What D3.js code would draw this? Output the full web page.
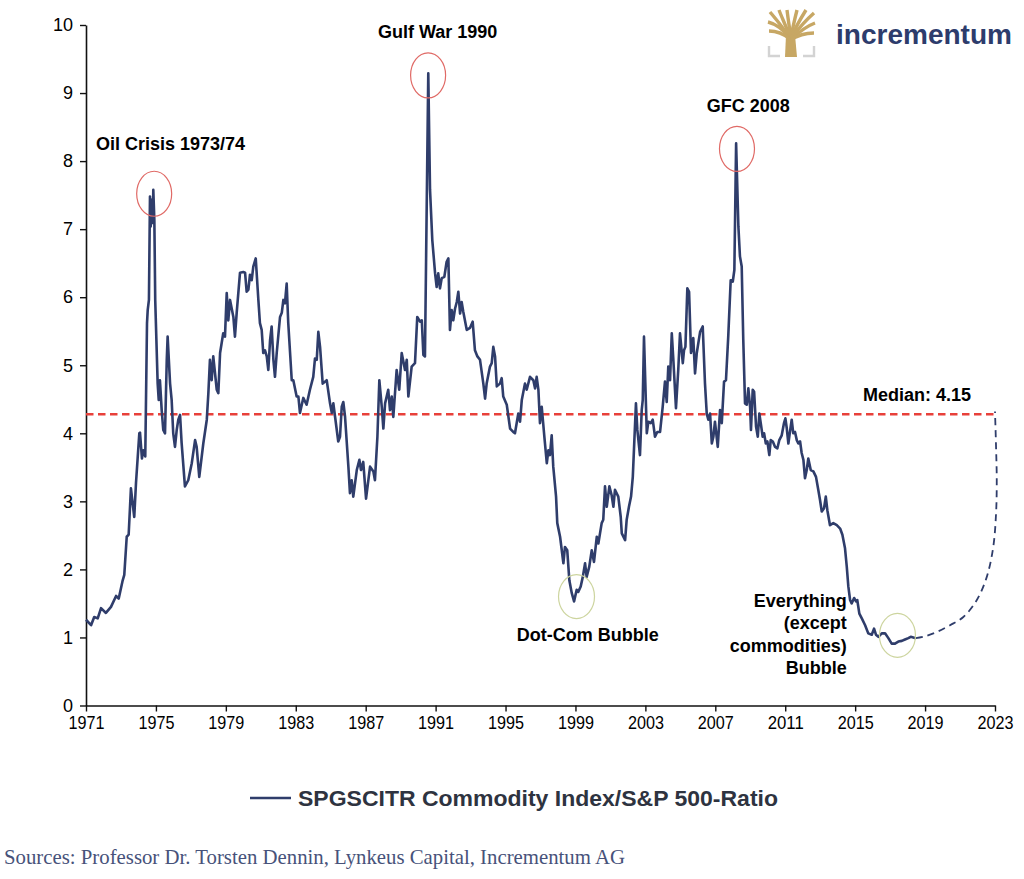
<!DOCTYPE html>
<html><head><meta charset="utf-8">
<script src="https://cdn.jsdelivr.net/npm/d3@7"></script>
<style>
html,body{margin:0;padding:0;background:#fff;}
svg{display:block;}
</style></head>
<body><svg id="chart" width="1024" height="879"></svg>
<script>
// ---------------- DATA ----------------
const years = [1971.00,1971.29,1971.47,1971.67,1971.86,1972.14,1972.43,1972.72,1972.87,1973.10,1973.19,1973.33,1973.44,1973.57,1973.76,1973.86,1974.05,1974.09,1974.20,1974.28,1974.39,1974.49,1974.53,1974.60,1974.66,1974.70,1974.76,1974.82,1974.85,1974.91,1974.96,1975.10,1975.16,1975.23,1975.33,1975.42,1975.52,1975.62,1975.67,1975.81,1975.90,1975.99,1976.09,1976.19,1976.28,1976.38,1976.47,1976.66,1976.85,1977.05,1977.24,1977.33,1977.48,1977.71,1977.91,1978.00,1978.09,1978.19,1978.28,1978.48,1978.57,1978.67,1978.85,1978.95,1979.05,1979.14,1979.24,1979.43,1979.52,1979.62,1979.81,1980.00,1980.10,1980.19,1980.29,1980.38,1980.48,1980.57,1980.71,1980.86,1980.95,1981.05,1981.14,1981.24,1981.34,1981.43,1981.53,1981.62,1981.72,1981.81,1981.91,1982.10,1982.20,1982.29,1982.38,1982.48,1982.57,1982.77,1982.86,1983.05,1983.15,1983.24,1983.43,1983.62,1983.81,1984.00,1984.10,1984.20,1984.29,1984.39,1984.54,1984.77,1984.96,1985.06,1985.15,1985.25,1985.43,1985.53,1985.63,1985.72,1985.82,1986.01,1986.10,1986.20,1986.29,1986.49,1986.64,1986.73,1986.86,1987.02,1987.25,1987.44,1987.53,1987.67,1987.78,1987.92,1988.01,1988.11,1988.29,1988.39,1988.49,1988.58,1988.77,1988.92,1989.06,1989.25,1989.35,1989.44,1989.63,1989.82,1989.95,1990.11,1990.21,1990.30,1990.39,1990.58,1990.68,1990.81,1990.97,1991.06,1991.15,1991.25,1991.35,1991.50,1991.63,1991.73,1991.82,1991.92,1992.01,1992.11,1992.21,1992.30,1992.40,1992.49,1992.58,1992.78,1992.97,1993.12,1993.25,1993.39,1993.54,1993.73,1993.83,1993.92,1994.11,1994.21,1994.30,1994.40,1994.50,1994.68,1994.78,1994.87,1995.07,1995.26,1995.44,1995.54,1995.73,1995.83,1995.93,1996.11,1996.21,1996.40,1996.59,1996.69,1996.78,1996.88,1996.97,1997.07,1997.22,1997.36,1997.45,1997.54,1997.64,1997.73,1997.89,1997.96,1998.12,1998.31,1998.40,1998.53,1998.65,1998.79,1998.92,1999.07,1999.16,1999.30,1999.42,1999.55,1999.64,1999.79,1999.93,2000.06,2000.22,2000.31,2000.50,2000.59,2000.69,2000.79,2000.94,2001.07,2001.17,2001.26,2001.45,2001.59,2001.65,2001.84,2001.93,2002.06,2002.18,2002.28,2002.37,2002.46,2002.54,2002.69,2002.79,2002.85,2002.92,2003.08,2003.17,2003.31,2003.42,2003.55,2003.68,2003.84,2003.99,2004.12,2004.22,2004.31,2004.41,2004.51,2004.60,2004.75,2004.88,2004.98,2005.14,2005.21,2005.29,2005.40,2005.50,2005.61,2005.74,2005.84,2005.94,2006.13,2006.28,2006.41,2006.51,2006.60,2006.70,2006.80,2006.89,2006.98,2007.14,2007.27,2007.37,2007.50,2007.61,2007.74,2007.88,2008.00,2008.09,2008.19,2008.32,2008.41,2008.51,2008.60,2008.70,2008.80,2008.89,2008.99,2009.04,2009.14,2009.22,2009.33,2009.43,2009.52,2009.60,2009.71,2009.79,2009.89,2009.98,2010.09,2010.17,2010.29,2010.42,2010.55,2010.66,2010.80,2010.93,2011.01,2011.09,2011.18,2011.27,2011.37,2011.46,2011.56,2011.66,2011.75,2011.85,2011.94,2012.04,2012.13,2012.23,2012.32,2012.46,2012.61,2012.76,2012.89,2012.99,2013.09,2013.22,2013.32,2013.41,2013.56,2013.75,2013.95,2014.14,2014.27,2014.42,2014.52,2014.61,2014.71,2014.80,2014.94,2015.05,2015.12,2015.24,2015.38,2015.57,2015.75,2015.95,2016.08,2016.19,2016.33,2016.52,2016.71,2016.90,2017.09,2017.28,2017.47,2017.67,2017.85,2018.04,2018.18,2018.47];
const ratio = [1.26,1.18,1.30,1.28,1.43,1.36,1.45,1.61,1.57,1.84,1.92,2.48,2.51,3.19,2.77,3.27,4.00,4.01,3.63,3.75,3.66,5.62,5.81,5.96,7.48,7.04,7.43,7.09,7.58,7.13,5.96,4.73,4.49,4.78,4.34,4.05,4.00,5.08,5.42,4.73,4.49,4.00,3.80,4.05,4.20,4.27,3.86,3.22,3.31,3.56,3.90,3.80,3.36,3.85,4.20,4.59,5.08,4.78,5.13,4.64,4.59,5.18,5.47,5.42,6.06,5.66,5.96,5.71,5.42,5.77,6.36,6.37,6.36,6.08,6.11,6.33,6.25,6.45,6.57,5.96,5.62,5.52,5.18,5.22,5.13,4.93,5.37,5.57,5.08,4.83,5.18,5.71,5.77,5.96,5.91,6.20,5.62,4.78,4.78,4.54,4.54,4.30,4.52,4.42,4.64,4.83,5.10,5.08,5.49,5.27,4.73,4.78,4.44,4.30,4.44,4.24,3.88,3.95,4.39,4.46,4.24,3.51,3.12,3.31,3.07,3.46,3.61,3.46,3.58,3.04,3.51,3.44,3.31,3.95,4.78,4.39,4.07,4.44,4.64,4.34,4.54,4.24,4.93,4.64,5.18,4.93,5.08,4.54,4.98,5.03,5.71,5.64,5.66,5.15,5.13,9.29,7.58,6.84,6.35,6.15,6.35,6.13,6.28,6.30,6.52,6.57,5.52,5.81,5.66,5.83,5.93,6.08,5.76,5.93,5.79,5.52,5.55,5.64,5.22,5.13,5.08,4.73,4.51,4.73,4.98,5.03,5.27,5.13,4.69,4.73,4.81,4.54,4.42,4.07,4.02,4.00,4.29,4.17,4.49,4.73,4.64,4.83,4.78,4.66,4.83,4.64,4.15,4.39,3.95,3.56,3.75,3.68,3.97,3.51,3.07,2.68,2.48,2.09,2.33,2.28,1.84,1.65,1.53,1.70,1.67,1.75,1.89,2.09,1.89,2.04,2.28,2.11,2.48,2.38,2.68,2.73,3.22,2.92,3.22,3.09,2.92,3.17,3.07,2.77,2.53,2.43,2.73,2.92,3.07,3.36,3.90,4.44,4.05,3.68,4.34,4.49,5.42,4.00,4.17,4.15,4.20,3.95,4.02,4.02,4.39,4.76,4.46,4.98,4.78,5.47,5.08,4.37,4.93,5.47,5.03,5.22,5.27,6.13,6.08,5.18,5.40,4.88,5.18,5.49,5.57,4.73,4.29,4.20,4.29,3.85,3.95,4.17,3.80,4.34,4.15,4.76,4.78,5.42,6.25,6.23,6.40,8.26,7.04,6.60,6.45,5.37,4.44,4.42,4.66,4.39,4.05,4.64,4.61,4.10,3.95,4.29,4.15,3.95,4.00,3.85,3.88,3.68,3.90,3.88,3.80,3.78,3.90,3.97,4.15,4.22,4.07,3.85,4.02,4.20,4.00,4.02,3.90,3.85,3.88,3.71,3.61,3.34,3.46,3.63,3.46,3.44,3.36,3.17,3.02,2.85,2.90,3.07,2.87,2.65,2.68,2.65,2.60,2.51,2.31,2.04,1.75,1.55,1.50,1.58,1.53,1.55,1.35,1.28,1.18,1.06,1.04,1.13,1.04,1.01,1.06,1.06,0.99,0.91,0.91,0.94,0.95,0.97,0.99,1.01,0.99];

// dashed projection back to the median
const projYears  = [2018.47, 2018.91, 2019.67, 2020.43, 2021.19, 2021.96, 2022.53, 2022.90, 2023.06, 2023.10, 2023.06, 2023.00];
const projValues = [0.99, 1.01, 1.08, 1.18, 1.30, 1.55, 1.89, 2.33, 2.82, 3.31, 3.80, 4.32];

const xTicks = [1971,1975,1979,1983,1987,1991,1995,1999,2003,2007,2011,2015,2019,2023];
const yTicks = [0,1,2,3,4,5,6,7,8,9,10];

const medianLineValue = 4.28;
const seriesName = "SPGSCITR Commodity Index/S&P 500-Ratio";
const sourceText = "Sources: Professor Dr. Torsten Dennin, Lynkeus Capital, Incrementum AG";
const brandName = "incrementum";

// annotation labels (anchor in data units)
const labelTexts  = ["Oil Crisis 1973/74", "Gulf War 1990", "GFC 2008", "Median: 4.15", "Dot-Com Bubble"];
const labelYears  = [1971.57, 1987.70, 2006.51, 2015.45, 1995.64];
const labelValues = [8.16, 9.81, 8.72, 4.47, 0.95];

const bubbleLines  = ["Everything", "(except", "commodities)", "Bubble"];
const bubbleYear   = 2014.52;
const bubbleValues = [1.45, 1.12, 0.79, 0.46];

// highlight ellipses (center in data units)
const redCircleYears  = [1974.90, 1990.57, 2008.24];
const redCircleValues = [7.52, 9.26, 8.18];
const greenCircleYears  = [1999.06, 2017.42];
const greenCircleValues = [1.60, 1.03];

// ---------------- DRAW ----------------
const svg = d3.select('#chart');
const FONT = "'Liberation Sans', Arial, Helvetica, sans-serif";
const NAVY = "#2f3d6b";

const x = d3.scaleLinear().domain([1971, 2023]).range([86, 995]);
const y = d3.scaleLinear().domain([0, 10]).range([705.5, 25]);

// axes
const yAxis = svg.append('g').attr('transform', 'translate(86,0)')
  .call(d3.axisLeft(y).tickValues(yTicks).tickSize(6).tickSizeOuter(0).tickPadding(7).tickFormat(d3.format('d')));
const xAxis = svg.append('g').attr('transform', 'translate(0,705.5)')
  .call(d3.axisBottom(x).tickValues(xTicks).tickSize(6).tickSizeOuter(0).tickPadding(4).tickFormat(d3.format('d')));
[yAxis, xAxis].forEach(g => {
  g.selectAll('path.domain').attr('stroke', '#111').attr('stroke-width', 1.6);
  g.selectAll('.tick line').attr('stroke', '#111').attr('stroke-width', 1.4);
  g.selectAll('text').attr('fill', '#000').style('font-family', FONT);
});
yAxis.selectAll('text').style('font-size', '18px');
xAxis.selectAll('text').style('font-size', '19px')
  .attr('textLength', 36).attr('lengthAdjust', 'spacingAndGlyphs');

// median line
svg.append('line')
  .attr('x1', x(1971)).attr('x2', x(2023))
  .attr('y1', y(medianLineValue)).attr('y2', y(medianLineValue))
  .attr('stroke', '#e8403a').attr('stroke-width', 2.4)
  .attr('stroke-dasharray', '7.5,4.5');

// series line
const pts = years.map((yr, i) => [yr, ratio[i]]);
const line = d3.line().x(d => x(d[0])).y(d => y(d[1]));
svg.append('path').datum(pts)
  .attr('d', line)
  .attr('fill', 'none').attr('stroke', NAVY).attr('stroke-width', 2.6)
  .attr('stroke-linejoin', 'round');

// projection
const proj = projYears.map((yr, i) => [yr, projValues[i]]);
svg.append('path').datum(proj)
  .attr('d', d3.line().x(d => x(d[0])).y(d => y(d[1])).curve(d3.curveCatmullRom.alpha(0.5)))
  .attr('fill', 'none').attr('stroke', NAVY).attr('stroke-width', 1.8)
  .attr('stroke-dasharray', '7,5');

// ellipses
const redC = redCircleYears.map((yr, i) => [yr, redCircleValues[i]]);
svg.selectAll('ellipse.red').data(redC).enter().append('ellipse')
  .attr('cx', d => x(d[0])).attr('cy', d => y(d[1]))
  .attr('rx', 17.5).attr('ry', 22.5)
  .attr('fill', 'none').attr('stroke', '#e06a66').attr('stroke-width', 1.2);
const greenC = greenCircleYears.map((yr, i) => [yr, greenCircleValues[i]]);
svg.selectAll('ellipse.green').data(greenC).enter().append('ellipse')
  .attr('cx', d => x(d[0])).attr('cy', d => y(d[1]))
  .attr('rx', 18).attr('ry', 22)
  .attr('fill', 'none').attr('stroke', '#cdd59f').attr('stroke-width', 1.2);

// labels
labelTexts.forEach((t, i) => {
  svg.append('text').attr('x', x(labelYears[i])).attr('y', y(labelValues[i]))
    .text(t).style('font-family', FONT).style('font-weight', 'bold')
    .style('font-size', '18px').attr('fill', '#000');
});
bubbleLines.forEach((t, i) => {
  svg.append('text').attr('x', x(bubbleYear)).attr('y', y(bubbleValues[i]))
    .attr('text-anchor', 'end')
    .text(t).style('font-family', FONT).style('font-weight', 'bold')
    .style('font-size', '18px').attr('fill', '#000');
});

// legend
svg.append('line').attr('x1', 250).attr('x2', 291).attr('y1', 798).attr('y2', 798)
  .attr('stroke', NAVY).attr('stroke-width', 2.6);
svg.append('text').attr('x', 298).attr('y', 806).text(seriesName)
  .style('font-family', FONT).style('font-weight', 'bold').style('font-size', '22px')
  .attr('fill', '#2e3340').attr('textLength', 480).attr('lengthAdjust', 'spacingAndGlyphs');

// source
svg.append('text').attr('x', 4).attr('y', 864).text(sourceText)
  .style('font-family', "'Liberation Serif', 'Times New Roman', serif").style('font-size', '21px')
  .attr('fill', '#47527a').attr('textLength', 621).attr('lengthAdjust', 'spacingAndGlyphs');

// logo
const logo = svg.append('g');
const GOLD = '#c7a764';
logo.append('path').attr('d', 'M785,57 L786,35 L795,35 L797,57 Z').attr('fill', GOLD);
const branches = [
  'M790,38 C784,30 776,24 768,22', 'M790,38 C782,26 775,18 770,12',
  'M790,37 C786,26 782,18 779,10', 'M791,37 C789,26 788,18 787,10',
  'M791,37 C793,26 795,18 797,10', 'M791,38 C796,26 801,18 806,10',
  'M791,38 C799,28 806,20 814,13', 'M791,39 C799,32 807,26 815,23',
  'M790,39 C784,34 777,31 769,31', 'M791,40 C798,35 806,33 814,33'];
branches.forEach(d => logo.append('path').attr('d', d)
  .attr('fill', 'none').attr('stroke', GOLD).attr('stroke-width', 3.4).attr('stroke-linecap', 'butt'));
logo.append('path').attr('d', 'M769,46 L769,56 L780,56').attr('fill', 'none').attr('stroke', '#d3d3d3').attr('stroke-width', 2.4);
logo.append('path').attr('d', 'M814,46 L814,56 L803,56').attr('fill', 'none').attr('stroke', '#d3d3d3').attr('stroke-width', 2.4);
logo.append('text').attr('x', 836).attr('y', 44).text(brandName)
  .style('font-family', FONT).style('font-weight', 'bold')
  .style('font-size', '28px').attr('fill', '#2d3c6c')
  .attr('textLength', 176).attr('lengthAdjust', 'spacingAndGlyphs');
</script>
</body></html>
